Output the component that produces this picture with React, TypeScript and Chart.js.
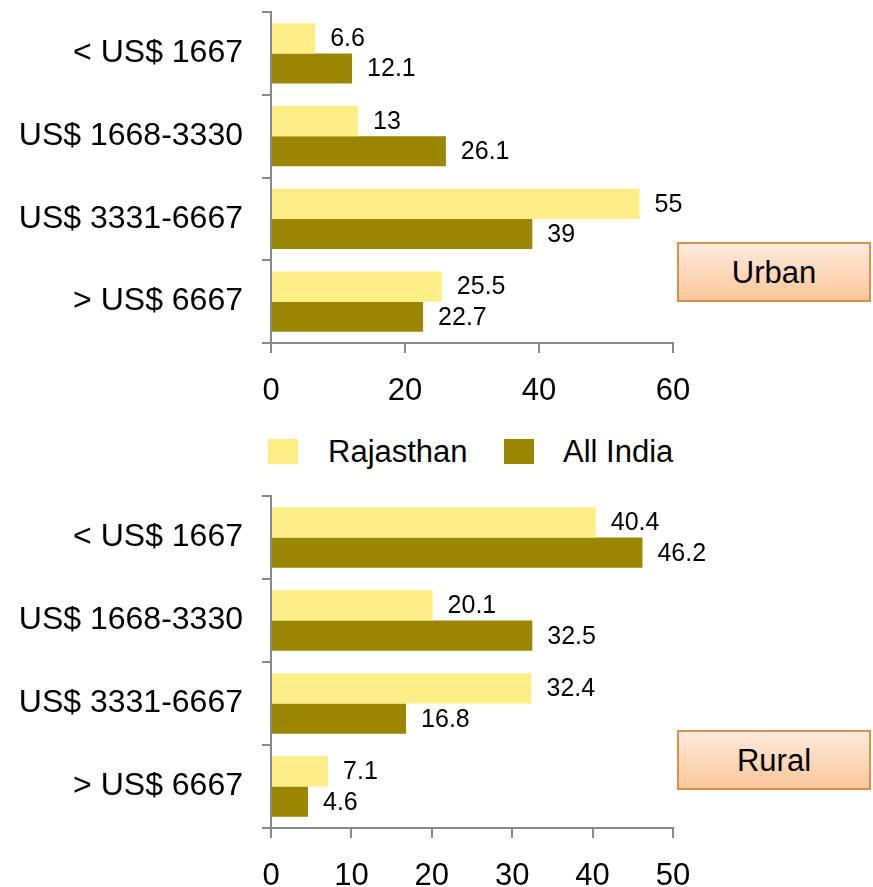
import React, { useEffect, useRef } from 'react';
import { Chart, registerables } from 'chart.js';

Chart.register(...registerables);

const categories = ['< US$ 1667', 'US$ 1668-3330', 'US$ 3331-6667', '> US$ 6667'];
const seriesNames = ['Rajasthan', 'All India'];
const urbanRajasthan = [6.6, 13, 55, 25.5];
const urbanAllIndia = [12.1, 26.1, 39, 22.7];
const ruralRajasthan = [40.4, 20.1, 32.4, 7.1];
const ruralAllIndia = [46.2, 32.5, 16.8, 4.6];
const urbanTicks = [0, 20, 40, 60];
const ruralTicks = [0, 10, 20, 30, 40, 50];
const panelTitles = ['Urban', 'Rural'];

const colors = ['#FFEE87', '#9A8600'];
const AXIS = '#898989';
const FONT = "Arial, 'Liberation Sans', sans-serif";

const valueLabels = {
  id: 'valueLabels',
  afterDatasetsDraw(chart: any) {
    const ctx = chart.ctx;
    ctx.save();
    ctx.font = `25px ${FONT}`;
    ctx.fillStyle = '#000';
    ctx.textBaseline = 'middle';
    ctx.textAlign = 'left';
    chart.data.datasets.forEach((ds: any, i: number) => {
      const meta = chart.getDatasetMeta(i);
      meta.data.forEach((bar: any, j: number) => {
        ctx.fillText(String(ds.data[j]), bar.x + 15, bar.y + 1);
      });
    });
    ctx.restore();
  },
};

function makeConfig(raj: number[], ind: number[], ticks: number[], padTop: number, xHeight: number): any {
  return {
    type: 'bar',
    data: {
      labels: categories,
      datasets: [
        { label: seriesNames[0], data: raj, backgroundColor: colors[0], categoryPercentage: 0.73, barPercentage: 1 },
        { label: seriesNames[1], data: ind, backgroundColor: colors[1], categoryPercentage: 0.73, barPercentage: 1 },
      ],
    },
    options: {
      indexAxis: 'y',
      animation: false,
      responsive: false,
      maintainAspectRatio: false,
      devicePixelRatio: 1,
      layout: { padding: { top: padTop, right: 200, left: 0, bottom: 0 } },
      plugins: { legend: { display: false }, tooltip: { enabled: false } },
      scales: {
        x: {
          min: ticks[0],
          max: ticks[ticks.length - 1],
          afterBuildTicks: (s: any) => {
            s.ticks = ticks.map((v) => ({ value: v }));
          },
          afterFit: (s: any) => {
            s.height = xHeight;
            s.paddingLeft = 0;
            s.paddingRight = 0;
          },
          border: { display: true, color: AXIS, width: 2 },
          grid: { display: true, drawOnChartArea: false, drawTicks: true, tickLength: 10, color: AXIS, lineWidth: 2 },
          ticks: { color: '#000', font: { size: 31, family: FONT }, padding: 20, maxRotation: 0, autoSkip: false },
        },
        y: {
          afterFit: (s: any) => {
            s.width = 271;
            s.paddingTop = 0;
            s.paddingBottom = 0;
          },
          border: { display: true, color: AXIS, width: 2 },
          grid: { display: true, drawOnChartArea: false, drawTicks: true, tickLength: 9, color: AXIS, lineWidth: 2, offset: true },
          ticks: { color: '#000', font: { size: 32, family: FONT }, padding: 19, autoSkip: false },
        },
      },
    },
    plugins: [valueLabels],
  };
}

function BarPanel(props: { raj: number[]; ind: number[]; ticks: number[]; top: number; height: number; padTop: number; xHeight: number }) {
  const ref = useRef<HTMLCanvasElement | null>(null);
  useEffect(() => {
    if (!ref.current) return;
    const chart = new Chart(ref.current, makeConfig(props.raj, props.ind, props.ticks, props.padTop, props.xHeight));
    return () => chart.destroy();
  }, []);
  return (
    <div style={{ position: 'absolute', left: 0, top: props.top, width: 873, height: props.height }}>
      <canvas ref={ref} width={873} height={props.height} style={{ display: 'block', width: 873, height: props.height }} />
    </div>
  );
}

function PanelBox(props: { text: string; top: number }) {
  return (
    <div
      style={{
        position: 'absolute',
        left: 677,
        top: props.top,
        width: 194,
        height: 60,
        boxSizing: 'border-box',
        border: '2px solid #D7914C',
        background: 'linear-gradient(#FEEBDC, #FBC69A)',
        display: 'flex',
        alignItems: 'center',
        justifyContent: 'center',
        fontFamily: FONT,
        fontSize: 31,
        lineHeight: 1,
        color: '#000',
      }}
    >
      {props.text}
    </div>
  );
}

function LegendItem(props: { color: string; text: string; boxLeft: number; textLeft: number }) {
  return (
    <>
      <div style={{ position: 'absolute', left: props.boxLeft, top: 439, width: 30, height: 25, background: props.color }} />
      <div
        style={{
          position: 'absolute',
          left: props.textLeft,
          top: 436,
          height: 31,
          display: 'flex',
          alignItems: 'center',
          fontFamily: FONT,
          fontSize: 31,
          lineHeight: 1,
          color: '#000',
          whiteSpace: 'nowrap',
        }}
      >
        {props.text}
      </div>
    </>
  );
}

export default function App() {
  return (
    <div style={{ position: 'absolute', left: 0, top: 0, width: 873, height: 887, overflow: 'hidden', background: '#fff' }}>
      <BarPanel raj={urbanRajasthan} ind={urbanAllIndia} ticks={urbanTicks} top={0} height={420} padTop={12} xHeight={77} />
      <BarPanel raj={ruralRajasthan} ind={ruralAllIndia} ticks={ruralTicks} top={470} height={430} padTop={26} xHeight={72} />
      <LegendItem color={colors[0]} text={seriesNames[0]} boxLeft={268} textLeft={328} />
      <LegendItem color={colors[1]} text={seriesNames[1]} boxLeft={504} textLeft={563} />
      <PanelBox text={panelTitles[0]} top={242} />
      <PanelBox text={panelTitles[1]} top={730} />
    </div>
  );
}
